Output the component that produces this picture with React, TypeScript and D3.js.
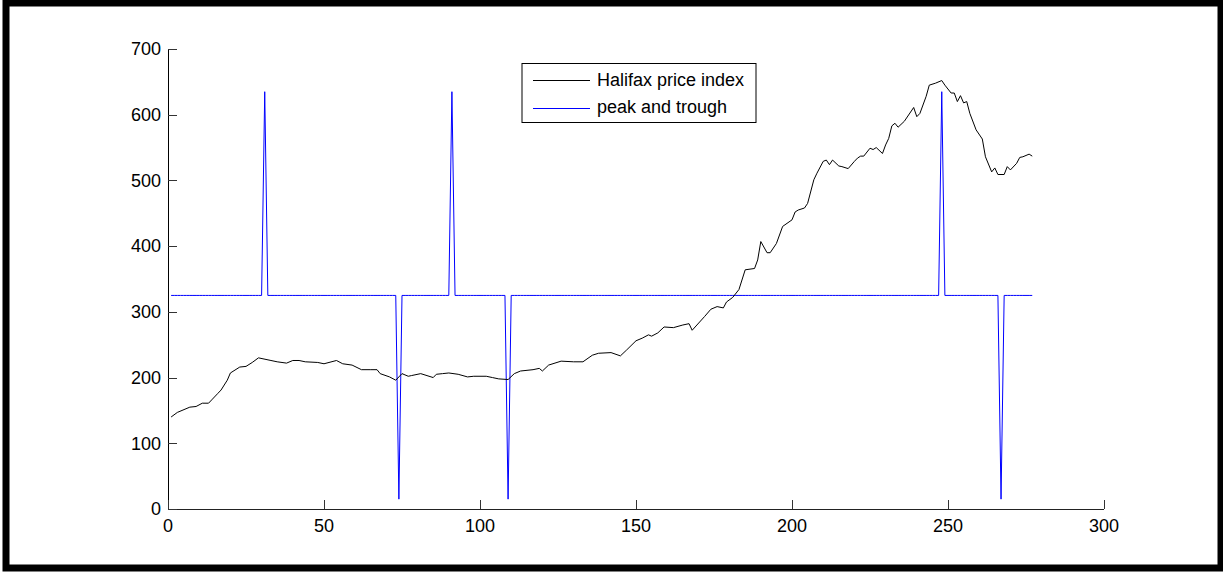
import React from "react";
import * as d3 from "d3";

// Halifax price index (index, value)
const hpiIndex = [1,3,7,9,11,13,14,16,17,19,20,23,25,27,29,33,35,38,40,42,44,48,50,54,56,59,62,65,67,68,71,73,74,75,77,78,81,85,86,88,90,93,96,98,102,104,106,109,111,113,117,119,120,122,126,130,133,136,138,142,145,147,150,152,154,155,157,159,162,165,167,168,172,174,176,178,179,181,183,185,188,189,190,192,193,195,197,200,201,202,204,205,207,208,210,211,212,213,215,216,218,220,221,222,223,225,226,227,229,230,231,232,233,234,236,239,240,241,243,244,246,248,249,251,252,253,254,255,256,257,259,261,262,264,265,266,268,269,270,272,273,274,276,277];
const hpiValue = [140,147,155,156,161,161,166,176,181,196,207,216,217,223,230,226,224,222,226,226,224,223,221,226,221,219,212,212,212,206,201,196,201,206,202,203,206,200,205,206,207,205,201,202,202,200,198,197,206,210,212,214,210,219,225,224,224,234,237,238,233,242,256,260,265,263,268,277,276,280,282,272,293,304,308,306,315,322,334,364,366,379,407,390,390,404,430,440,452,455,458,465,501,511,529,531,524,531,522,521,518,529,534,537,537,549,547,550,541,554,564,583,587,581,590,611,597,602,628,645,648,652,645,633,633,620,629,618,620,602,577,563,536,513,519,509,509,521,516,526,535,536,540,537];

// peak and trough indicator
const indicatorLength = 277;
const indicatorBase = 325;
const peakIndex = [31, 91, 248];
const troughIndex = [74, 109, 267];
const peakValue = 635;
const troughValue = 15;

const xTicks = [0, 50, 100, 150, 200, 250, 300];
const yTicks = [0, 100, 200, 300, 400, 500, 600, 700];
const legendLabels = ["Halifax price index", "peak and trough"];

export default function App() {
  const W = 1223, H = 573;
  const x = d3.scaleLinear().domain([0, 300]).range([168, 1104]);
  const y = d3.scaleLinear().domain([0, 700]).range([509, 49]);

  const hpi = hpiIndex.map((d, i) => [d, hpiValue[i]] as [number, number]);
  const ind: [number, number][] = [];
  for (let i = 1; i <= indicatorLength; i++) {
    const v = peakIndex.includes(i) ? peakValue : troughIndex.includes(i) ? troughValue : indicatorBase;
    ind.push([i, v]);
  }
  const line = d3.line<[number, number]>().x(d => x(d[0])).y(d => y(d[1]));
  const font = "'Liberation Sans', Arial, Helvetica, sans-serif";

  return (
    <svg width={W} height={H} style={{ position: "absolute", left: 0, top: 0, background: "#fff" }} fontFamily={font}>
      <rect x={0} y={0} width={W} height={H} fill="#fff" />
      <rect x={6} y={3} width={1215} height={565} fill="none" stroke="#000" strokeWidth={7} />
      {/* axes */}
      <line x1={168.5} x2={168.5} y1={49} y2={509} stroke="#000" strokeWidth={1} />
      <line x1={168} x2={1104} y1={509.5} y2={509.5} stroke="#222" strokeWidth={1} />
      {yTicks.map(t => (
        <g key={"y" + t}>
          <line x1={168} x2={177} y1={Math.round(y(t)) + 0.5} y2={Math.round(y(t)) + 0.5} stroke="#333" />
          <text x={161} y={y(t)} dy="0.35em" textAnchor="end" fontSize={18} fill="#000">{t}</text>
        </g>
      ))}
      {xTicks.map(t => (
        <g key={"x" + t}>
          <line x1={Math.round(x(t)) + 0.5} x2={Math.round(x(t)) + 0.5} y1={509} y2={500} stroke="#333" />
          <text x={x(t)} y={531.5} textAnchor="middle" fontSize={18} fill="#000">{t}</text>
        </g>
      ))}
      <path d={line(ind) || ""} fill="none" stroke="#0000ff" strokeWidth={1} />
      <path d={line(hpi) || ""} fill="none" stroke="#000" strokeWidth={1} />
      {/* legend */}
      <rect x={522} y={63.5} width={234} height={59} fill="#fff" stroke="#000" strokeWidth={1} />
      <line x1={533} x2={590} y1={80.5} y2={80.5} stroke="#000" />
      <line x1={533} x2={590} y1={108.5} y2={108.5} stroke="#0000ff" />
      <text x={597} y={86} fontSize={18} fill="#000">{legendLabels[0]}</text>
      <text x={597} y={113} fontSize={18} fill="#000">{legendLabels[1]}</text>
    </svg>
  );
}
